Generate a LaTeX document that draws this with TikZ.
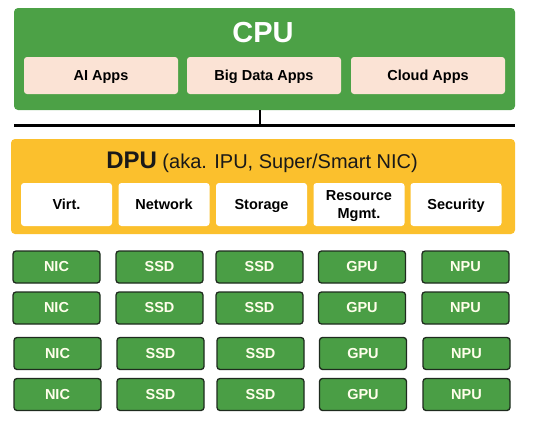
\documentclass[tikz,border=0pt]{standalone}
\usepackage{fontspec}
\setmainfont{Liberation Sans}
\usepackage{tikz}
\definecolor{cpugreen}{HTML}{4CA146}
\definecolor{appfill}{HTML}{FBE3D5}
\definecolor{dpuyellow}{HTML}{FBC02D}
\definecolor{hwgreen}{HTML}{4A9E45}
\definecolor{hwedge}{HTML}{1E2B1E}
\newcommand{\hwcol}{hwgreen}

\tikzset{
  appbox/.style={fill=appfill, draw=none, rounded corners=3pt, inner sep=0pt,
    minimum width=154pt, minimum height=37pt, text depth=0pt,
    font=\fontsize{14.5}{16}\selectfont\bfseries},
  funcbox/.style={fill=white, draw=none, rounded corners=3pt, inner sep=0pt,
    minimum width=91pt, minimum height=43pt, align=center, text depth=0pt,
    font=\fontsize{14.5}{18.5}\selectfont\bfseries},
  hwbox/.style={fill=\hwcol, draw=hwedge, line width=1.3pt, rounded corners=3pt,
    inner sep=0pt, minimum width=87pt, minimum height=32pt, text=white!92!yellow,
    font=\fontsize{14.5}{16}\selectfont\bfseries}
}

\begin{document}
\begin{tikzpicture}[x=1pt, y=-1pt]
    \useasboundingbox (0, 0) rectangle (540, 423);

    % CPU
    \node[fill=cpugreen, rounded corners=4pt, minimum width=501pt, minimum height=102pt, inner sep=0pt] (cpu) at (264.5, 59) {};
    \node[text=white, font=\fontsize{29}{32}\selectfont\bfseries] (cputitle) at (263, 33) {CPU};
    \node[appbox] (ai) at (101, 75.5) {AI Apps};
    \node[appbox] (bigdata) at (264, 75.5) {Big Data Apps};
    \node[appbox] (cloud) at (428, 75.5) {Cloud Apps};

    % bus
    \coordinate (busl) at (14, 125);
    \coordinate (busr) at (515, 125);
    \coordinate (busmid) at (260, 125);
    \draw[line width=3pt] (busl) -- (busr);
    \draw[line width=2.5pt] (cpu.south -| busmid) -- (busmid);

    % DPU
    \node[fill=dpuyellow, rounded corners=4pt, minimum width=504pt, minimum height=95pt, inner sep=0pt] (dpu) at (263, 186.5) {};
    \node[text=black!90, font=\fontsize{20}{23}\selectfont] (dputitle) at (262, 162)
      {{\fontsize{24}{27}\selectfont\bfseries DPU} (aka. IPU, Super/Smart NIC)};
    \node[funcbox] (virt) at (66.5, 204.5) {Virt.};
    \node[funcbox] (network) at (164, 204.5) {Network};
    \node[funcbox] (storage) at (261.5, 204.5) {Storage};
    \node[funcbox] (resource) at (359, 204.5) {Resource\\Mgmt.};
    \node[funcbox] (security) at (456, 204.5) {Security};

    % devices
    \node[hwbox] (nic1) at (56.5, 267) {NIC};
    \node[hwbox] (ssda1) at (159.5, 267) {SSD};
    \node[hwbox] (ssdb1) at (259.5, 267) {SSD};
    \node[hwbox] (gpu1) at (362, 267) {GPU};
    \node[hwbox] (npu1) at (465.5, 267) {NPU};

    \node[hwbox] (nic2) at (56.5, 308) {NIC};
    \node[hwbox] (ssda2) at (159.5, 308) {SSD};
    \node[hwbox] (ssdb2) at (259.5, 308) {SSD};
    \node[hwbox] (gpu2) at (362, 308) {GPU};
    \node[hwbox] (npu2) at (465.5, 308) {NPU};

    \node[hwbox] (nic3) at (57.5, 353.5) {NIC};
    \node[hwbox] (ssda3) at (160.5, 353.5) {SSD};
    \node[hwbox] (ssdb3) at (260.5, 353.5) {SSD};
    \node[hwbox] (gpu3) at (363, 353.5) {GPU};
    \node[hwbox] (npu3) at (466.5, 353.5) {NPU};

    \node[hwbox] (nic4) at (57.5, 394.5) {NIC};
    \node[hwbox] (ssda4) at (160.5, 394.5) {SSD};
    \node[hwbox] (ssdb4) at (260.5, 394.5) {SSD};
    \node[hwbox] (gpu4) at (363, 394.5) {GPU};
    \node[hwbox] (npu4) at (466.5, 394.5) {NPU};

  \end{tikzpicture}
\end{document}
